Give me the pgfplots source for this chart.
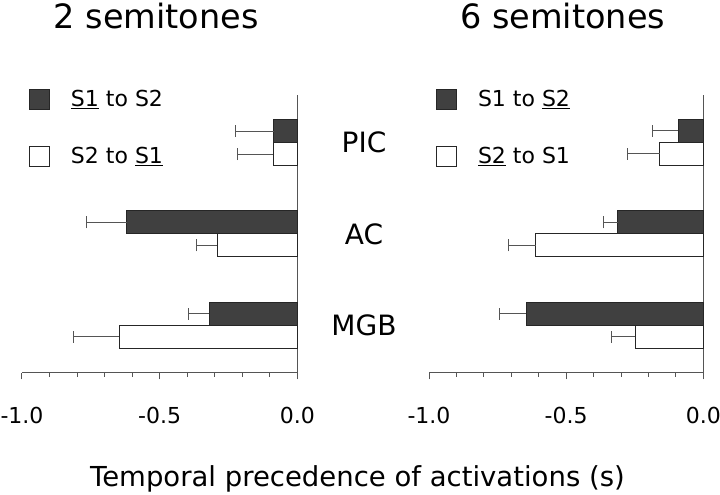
\documentclass[border=0pt]{standalone}
\usepackage{pgfplots}
\usepackage{pgfplotstable}
\pgfplotsset{compat=1.18}
\usepackage{fontspec}
\setmainfont{DejaVu Sans}
\definecolor{darkbar}{RGB}{64,64,64}
\definecolor{axgray}{RGB}{85,85,85}

\pgfplotstableread{
y x err
2 -0.085 0.141
1 -0.619 0.148
0 -0.320 0.076
}\Ldark
\pgfplotstableread{
y x err
2 -0.088 0.131
1 -0.291 0.074
0 -0.647 0.166
}\Lwhite
\pgfplotstableread{
y x err
2 -0.091 0.095
1 -0.311 0.053
0 -0.646 0.097
}\Rdark
\pgfplotstableread{
y x err
2 -0.158 0.118
1 -0.611 0.100
0 -0.248 0.088
}\Rwhite

\pgfplotsset{
  panel/.style={
    scale only axis,
    height=277.7pt,
    xmin=-1, xmax=0,
    ymin=-0.52, ymax=2.52,
    axis x line=bottom,
    axis y line=right,
    axis line style={-, axgray, line width=1pt},
    xtick={-1,-0.5,0},
    xticklabels={-1.0,-0.5,0.0},
    minor x tick num=4,
    tick align=outside,
    major tick length=6.7pt,
    minor tick length=4pt,
    every tick/.style={axgray, line width=1pt},
    xticklabel style={font=\fontsize{22}{26}\selectfont, anchor=base, yshift=-44pt},
    ytick style={draw=none},
    xbar,
    bar width=23pt,
    clip=false,
    title style={font=\fontsize{33.5}{40}\selectfont, at={(rel axis cs:0.5,1)}, anchor=base, yshift=60.7pt, xshift=-3.5pt},
    legend style={draw=none, fill=none, at={(rel axis cs:0,1)}, anchor=north west,
      xshift=7pt, yshift=5.7pt, inner sep=0pt, outer sep=0pt,
      nodes={inner sep=0pt, anchor=base west},
      row sep=36pt, column sep=21pt, font=\fontsize{22}{26}\selectfont},
    legend cell align=left,
    legend image code/.code={\draw[##1] (0pt,-3pt) rectangle (20pt,17pt);},
    error bars/x dir=minus,
    error bars/x explicit,
    error bars/error mark=|,
    error bars/error mark options={mark size=6pt, line width=1pt, axgray},
    error bars/error bar style={line width=1pt, axgray},
  },
  darkstyle/.style={fill=darkbar, draw=black!85, line width=1pt, bar shift=11.5pt},
  whitestyle/.style={fill=white, draw=black!85, line width=1pt, bar shift=-11.5pt},
}

\begin{document}
\begin{tikzpicture}
\path[use as bounding box] (-22pt,-122.3pt) rectangle (698pt,372.7pt);
\begin{axis}[panel,
  width=275.3pt,
  at={(0pt,0pt)}, anchor=south west,
  title={2 semitones},
  ytick={0,1,2},
  yticklabels={MGB,AC,PIC},
  yticklabel style={font=\fontsize{28}{32}\selectfont, anchor=center, xshift=60pt},
  xlabel={Temporal precedence of activations (s)},
  xlabel style={font=\fontsize{27.5}{32}\selectfont, at={(rel axis cs:0,0)}, anchor=base, xshift=335.5pt, yshift=-113.3pt},
]
\addplot[darkstyle] table[x=x, y=y, x error=err] {\Ldark};
\addlegendentry{\underline{S1} to S2}
\addplot[whitestyle] table[x=x, y=y, x error=err] {\Lwhite};
\addlegendentry{S2 to \underline{S1}}
\end{axis}
\begin{axis}[panel,
  width=274.3pt,
  at={(407pt,0pt)}, anchor=south west,
  title={6 semitones},
  ytick=\empty,
]
\addplot[darkstyle] table[x=x, y=y, x error=err] {\Rdark};
\addlegendentry{S1 to \underline{S2}}
\addplot[whitestyle] table[x=x, y=y, x error=err] {\Rwhite};
\addlegendentry{\underline{S2} to S1}
\end{axis}
\end{tikzpicture}
\end{document}
